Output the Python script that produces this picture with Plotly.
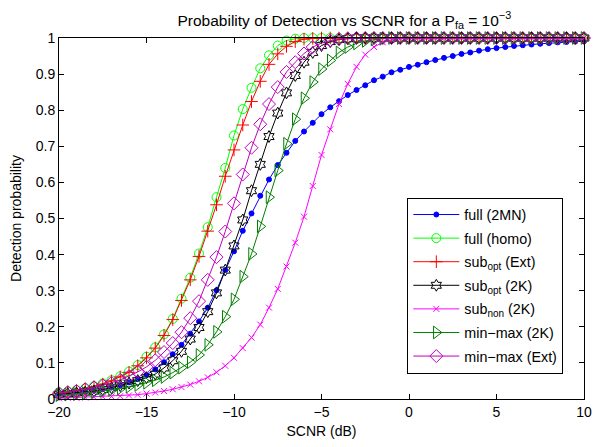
import plotly.graph_objects as go

snr_db = [-20 + 0.5 * i for i in range(61)]

full_2mn = [0.013, 0.015, 0.017, 0.020, 0.023, 0.027, 0.032, 0.038, 0.046, 0.055,
            0.067, 0.082, 0.102, 0.124, 0.150, 0.181, 0.215, 0.253, 0.301, 0.357,
            0.409, 0.466, 0.514, 0.563, 0.608, 0.648, 0.682, 0.715, 0.741, 0.765,
            0.789, 0.808, 0.825, 0.842, 0.856, 0.869, 0.883, 0.893, 0.905, 0.912,
            0.920, 0.926, 0.933, 0.939, 0.945, 0.950, 0.956, 0.960, 0.965, 0.969,
            0.972, 0.975, 0.978, 0.980, 0.982, 0.984, 0.986, 0.988, 0.989, 0.990,
            0.991]

full_homo = [0.018, 0.021, 0.025, 0.030, 0.036, 0.043, 0.052, 0.063, 0.076, 0.094,
             0.117, 0.143, 0.179, 0.222, 0.278, 0.336, 0.403, 0.476, 0.559, 0.640,
             0.730, 0.803, 0.862, 0.916, 0.952, 0.979, 0.993, 0.998, 1.0, 1.0,
             1.0, 1.0, 1.0, 1.0, 1.0, 1.0, 1.0, 1.0, 1.0, 1.0,
             1.0, 1.0, 1.0, 1.0, 1.0, 1.0, 1.0, 1.0, 1.0, 1.0,
             1.0, 1.0, 1.0, 1.0, 1.0, 1.0, 1.0, 1.0, 1.0, 1.0,
             1.0]

sub_opt_ext = [0.016, 0.019, 0.023, 0.028, 0.034, 0.041, 0.050, 0.061, 0.074, 0.092,
               0.114, 0.141, 0.176, 0.220, 0.273, 0.330, 0.395, 0.465, 0.538, 0.617,
               0.690, 0.759, 0.824, 0.880, 0.927, 0.956, 0.977, 0.990, 0.997, 0.999,
               1.0, 1.0, 1.0, 1.0, 1.0, 1.0, 1.0, 1.0, 1.0, 1.0,
               1.0, 1.0, 1.0, 1.0, 1.0, 1.0, 1.0, 1.0, 1.0, 1.0,
               1.0, 1.0, 1.0, 1.0, 1.0, 1.0, 1.0, 1.0, 1.0, 1.0,
               1.0]

sub_opt_2k = [0.013, 0.015, 0.017, 0.019, 0.022, 0.026, 0.031, 0.037, 0.044, 0.051,
              0.059, 0.069, 0.086, 0.106, 0.132, 0.166, 0.198, 0.242, 0.294, 0.357,
              0.424, 0.496, 0.577, 0.650, 0.727, 0.792, 0.848, 0.896, 0.933, 0.960,
              0.979, 0.990, 0.996, 0.998, 1.0, 1.0, 1.0, 1.0, 1.0, 1.0,
              1.0, 1.0, 1.0, 1.0, 1.0, 1.0, 1.0, 1.0, 1.0, 1.0,
              1.0, 1.0, 1.0, 1.0, 1.0, 1.0, 1.0, 1.0, 1.0, 1.0,
              1.0]

sub_non_2k = [0.002, 0.003, 0.003, 0.004, 0.005, 0.006, 0.007, 0.008, 0.010, 0.012,
              0.015, 0.018, 0.022, 0.027, 0.033, 0.040, 0.049, 0.060, 0.074, 0.092,
              0.114, 0.141, 0.170, 0.206, 0.253, 0.305, 0.367, 0.433, 0.505, 0.590,
              0.676, 0.747, 0.817, 0.873, 0.920, 0.954, 0.975, 0.988, 0.995, 0.998,
              1.0, 1.0, 1.0, 1.0, 1.0, 1.0, 1.0, 1.0, 1.0, 1.0,
              1.0, 1.0, 1.0, 1.0, 1.0, 1.0, 1.0, 1.0, 1.0, 1.0,
              1.0]

minmax_2k = [0.011, 0.012, 0.014, 0.016, 0.019, 0.022, 0.025, 0.029, 0.034, 0.039,
             0.045, 0.052, 0.061, 0.073, 0.087, 0.102, 0.122, 0.150, 0.186, 0.228,
             0.276, 0.339, 0.402, 0.478, 0.559, 0.633, 0.707, 0.775, 0.833, 0.878,
             0.914, 0.938, 0.960, 0.975, 0.985, 0.992, 0.996, 0.998, 1.0, 1.0,
             1.0, 1.0, 1.0, 1.0, 1.0, 1.0, 1.0, 1.0, 1.0, 1.0,
             1.0, 1.0, 1.0, 1.0, 1.0, 1.0, 1.0, 1.0, 1.0, 1.0,
             1.0]

minmax_ext = [0.016, 0.019, 0.022, 0.027, 0.032, 0.038, 0.045, 0.053, 0.063, 0.075,
              0.089, 0.107, 0.130, 0.155, 0.185, 0.224, 0.271, 0.330, 0.393, 0.464,
              0.542, 0.622, 0.696, 0.761, 0.817, 0.864, 0.906, 0.933, 0.957, 0.975,
              0.986, 0.993, 0.997, 0.999, 1.0, 1.0, 1.0, 1.0, 1.0, 1.0,
              1.0, 1.0, 1.0, 1.0, 1.0, 1.0, 1.0, 1.0, 1.0, 1.0,
              1.0, 1.0, 1.0, 1.0, 1.0, 1.0, 1.0, 1.0, 1.0, 1.0,
              1.0]

series_names = ["full (2MN)", "full (homo)", "sub<sub>opt</sub> (Ext)", "sub<sub>opt</sub> (2K)",
                "sub<sub>non</sub> (2K)", "min\u2212max (2K)", "min\u2212max (Ext)"]
series_values = [full_2mn, full_homo, sub_opt_ext, sub_opt_2k, sub_non_2k, minmax_2k, minmax_ext]
series_colors = ["#0000FF", "#00FF00", "#FF0000", "#000000", "#FF00FF", "#008000", "#BF00BF"]
series_symbols = ["circle", "circle-open", "cross-thin-open", "hexagram-open",
                  "x-thin-open", "triangle-right-open", "diamond-open"]
series_sizes = [5, 9, 9, 9, 6, 11, 10]

x_ticks = [-20, -15, -10, -5, 0, 5, 10]
y_ticks = [0, 0.1, 0.2, 0.3, 0.4, 0.5, 0.6, 0.7, 0.8, 0.9, 1]

FONT = "Liberation Sans, Arial, Helvetica, sans-serif"

fig = go.Figure()
for i, (name, vals, col, sym, sz) in enumerate(zip(series_names, series_values, series_colors,
                                                   series_symbols, series_sizes)):
    fig.add_trace(go.Scatter(
        x=snr_db, y=vals, name=name, mode="lines+markers",
        legendgroup="g%d" % i,
        line=dict(color=col, width=1),
        marker=dict(symbol=sym, size=sz, color=col, line=dict(color=col, width=1)),
        cliponaxis=False,
    ))

fig.update_layout(
    width=602, height=447,
    margin=dict(l=59, r=10, t=38, b=38),
    paper_bgcolor="white", plot_bgcolor="white",
    font=dict(family=FONT, size=14, color="black"),
    title=dict(
        text="Probability of Detection vs SCNR for a P<sub>fa</sub> = 10<sup>\u22123</sup>",
        x=0.572, xanchor="center", xref="container",
        y=0.955, yanchor="middle", yref="container",
        font=dict(family=FONT, size=15.5, color="black"),
    ),
    showlegend=True,
    legend=dict(
        x=0.9606, xanchor="right", y=0.07, yanchor="bottom",
        bgcolor="white", bordercolor="black", borderwidth=1,
        font=dict(family=FONT, size=14.3, color="black"),
        itemwidth=46, tracegroupgap=2,
    ),
)

fig.update_xaxes(
    range=[-20, 10], tickvals=x_ticks, ticks="inside", ticklen=5, tickcolor="black",
    showline=True, linecolor="black", linewidth=1, mirror="ticks",
    showgrid=False, zeroline=False,
    title=dict(text="SCNR (dB)", standoff=7, font=dict(family=FONT, size=14)),
    tickfont=dict(family=FONT, size=14),
)
fig.update_yaxes(
    range=[0, 1], tickvals=y_ticks, ticks="inside", ticklen=5, tickcolor="black",
    showline=True, linecolor="black", linewidth=1, mirror="ticks",
    showgrid=False, zeroline=False,
    title=dict(text="Detection probability", standoff=10, font=dict(family=FONT, size=14)),
    tickfont=dict(family=FONT, size=14),
)

fig.write_html(
    "out.html",
    config={"displayModeBar": False},
    post_script="document.body.style.margin='0';document.body.style.overflow='hidden';",
)
